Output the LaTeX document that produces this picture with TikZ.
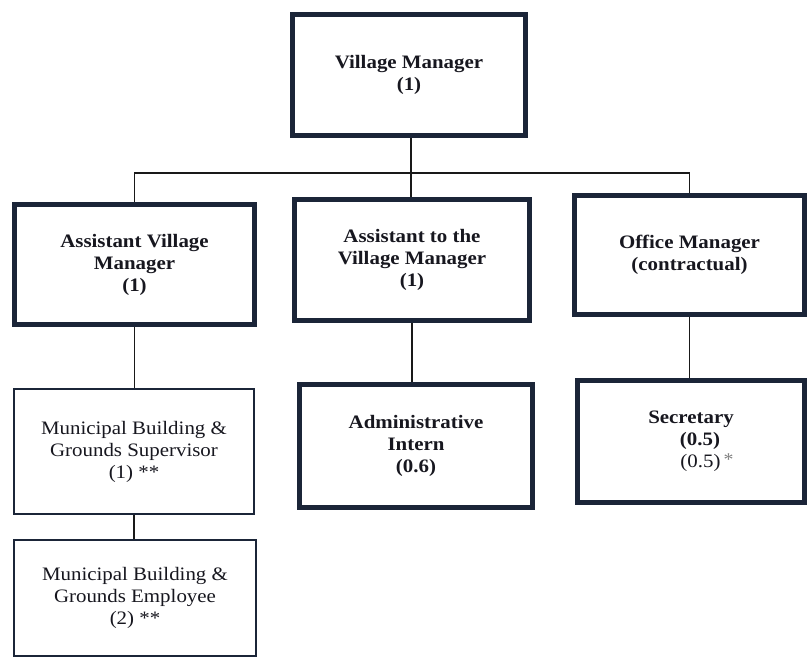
\documentclass[tikz,border=0pt]{standalone}
\usepackage{fontspec}
\setmainfont[FakeStretch=1.1]{Liberation Serif}
\definecolor{boxline}{HTML}{1B2538}
\definecolor{inktext}{HTML}{17171F}
\begin{document}
\begin{tikzpicture}[x=1pt,y=-1pt,
  every node/.style={inner sep=2pt, align=center, text=inktext,
    font=\fontsize{19}{22}\selectfont},
  mainbox/.style={draw=boxline, line width=5pt, fill=white,
    font=\fontsize{19}{22}\selectfont\bfseries},
  staffbox/.style={draw=boxline, line width=1.8pt, fill=white},
  link/.style={draw=black!90, line width=1.8pt}]
\useasboundingbox (0,0) rectangle (808,668);

% top level
\node[mainbox, minimum width=233pt, minimum height=121pt] (vm) at (409,75)
  {Village Manager\\(1)};

% second level
\node[mainbox, minimum width=240pt, minimum height=120pt] (avm) at (134.5,264.5)
  {Assistant Village\\Manager\\(1)};
\node[mainbox, minimum width=235pt, minimum height=121pt] (atvm) at (412,260)
  {Assistant to the\\Village Manager\\(1)};
\node[mainbox, minimum width=230pt, minimum height=119pt] (om) at (689.5,255)
  {Office Manager\\(contractual)};

% third level
\node[staffbox, minimum width=240pt, minimum height=125pt] (sup) at (134,451.5)
  {Municipal Building \&\\Grounds Supervisor\\(1) **};
\node[mainbox, minimum width=233pt, minimum height=123pt] (intern) at (416,446)
  {Administrative\\Intern\\(0.6)};
\node[mainbox, minimum width=227pt, minimum height=122pt] (sec) at (691,441.5)
  {Secretary\\\hspace*{18pt}(0.5)\\\hspace*{32pt}{\mdseries(0.5)\,\raisebox{2pt}{\textcolor{gray}{\fontsize{18}{18}\selectfont*}}}};

% fourth level
\node[staffbox, minimum width=242pt, minimum height=116pt] (emp) at (135,598)
  {Municipal Building \&\\Grounds Employee\\(2) **};

% connectors (all vertical drops from the parent box)
\coordinate (bus) at (411,173);
\draw[link] (atvm.north) ++(-1,0) coordinate (vmdrop) -- (vmdrop |- vm.south);
\draw[link] (avm.north) |- (bus) -| (om.north);
\draw[link] (avm.south) -- (avm.south |- sup.north);
\draw[link] (sup.south) -- (sup.south |- emp.north);
\draw[link] (atvm.south) -- (atvm.south |- intern.north);
\draw[link] (om.south) -- (om.south |- sec.north);
\end{tikzpicture}
\end{document}
